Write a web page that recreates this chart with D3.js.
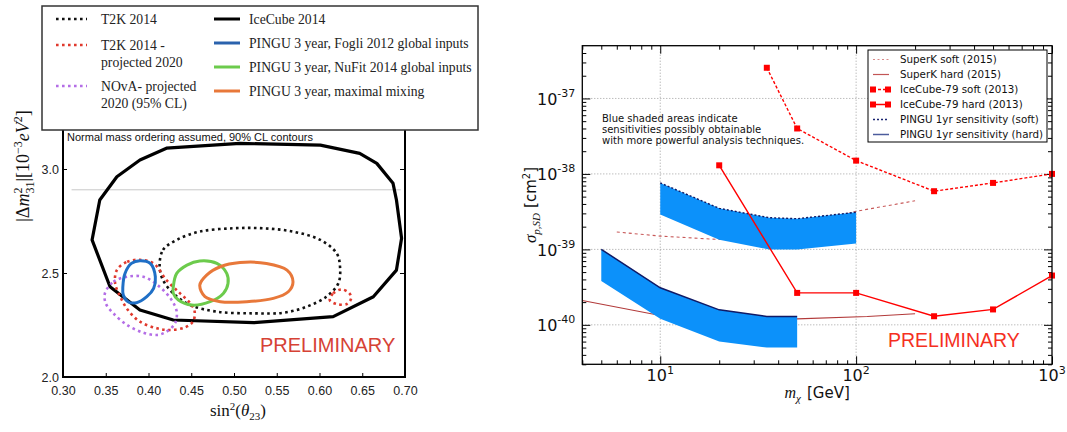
<!DOCTYPE html>
<html>
<head>
<meta charset="utf-8">
<script src="https://cdn.jsdelivr.net/npm/d3@7"></script>
<style>
  body { margin: 0; background: #fff; }
  svg { display: block; }
</style>
</head>
<body>
<div id="chart"></div>
<script>
// ---------- left panel: oscillation contours ----------
var oscXTicks = [0.30, 0.35, 0.40, 0.45, 0.50, 0.55, 0.60, 0.65, 0.70];
var oscYTicks = [2.0, 2.5, 3.0, 3.5];

// [sin^2(theta23), |dm^2_31| in 1e-3 eV^2]
var icecube2014 = [[0.334,2.659],[0.355,2.434],[0.390,2.322],[0.429,2.274],[0.523,2.261],[0.616,2.29],
  [0.663,2.386],[0.690,2.514],[0.696,2.667],[0.690,2.851],[0.686,2.931],[0.667,3.027],[0.647,3.075],
  [0.601,3.115],[0.507,3.123],[0.421,3.10],[0.390,3.043],[0.363,2.963],[0.343,2.851]];
var t2k2014 = [[0.413,2.530],[0.417,2.611],[0.433,2.659],[0.460,2.699],[0.499,2.715],[0.534,2.715],
  [0.569,2.699],[0.601,2.659],[0.620,2.595],[0.624,2.530],[0.622,2.450],[0.608,2.386],[0.585,2.338],
  [0.558,2.309],[0.523,2.306],[0.480,2.314],[0.449,2.346],[0.429,2.402],[0.417,2.466]];
var t2kProjected = [[0.363,2.514],[0.375,2.554],[0.390,2.563],[0.406,2.546],[0.421,2.466],[0.437,2.402],
  [0.449,2.354],[0.454,2.314],[0.452,2.266],[0.443,2.239],[0.425,2.226],[0.410,2.234],[0.390,2.266],
  [0.376,2.322],[0.367,2.386],[0.361,2.450]];
var t2kProjectedIsland = [[0.612,2.370],[0.616,2.402],[0.626,2.421],[0.635,2.402],[0.637,2.378],
  [0.632,2.351],[0.620,2.351]];
var novaProjected = [[0.349,2.402],[0.359,2.458],[0.375,2.482],[0.394,2.482],[0.413,2.434],[0.427,2.370],
  [0.433,2.314],[0.431,2.258],[0.421,2.218],[0.410,2.202],[0.394,2.213],[0.375,2.25],[0.359,2.306],
  [0.350,2.354]];
var pinguFogli = [[0.370,2.434],[0.3725,2.498],[0.380,2.546],[0.390,2.559],[0.402,2.546],[0.408,2.482],
  [0.406,2.426],[0.398,2.386],[0.386,2.357],[0.376,2.362],[0.3705,2.394]];
var pinguNuFit = [[0.429,2.434],[0.433,2.498],[0.445,2.538],[0.460,2.558],[0.480,2.546],[0.4915,2.498],
  [0.493,2.450],[0.4875,2.402],[0.472,2.362],[0.4505,2.346],[0.435,2.370],[0.429,2.402]];
var pinguMaximal = [[0.460,2.442],[0.468,2.490],[0.484,2.530],[0.507,2.550],[0.538,2.546],[0.562,2.514],
  [0.569,2.458],[0.5635,2.410],[0.546,2.378],[0.515,2.362],[0.484,2.362],[0.466,2.386]];

var oscLegendLeft = [
  { lines: ['T2K 2014'], color: '#111', dotted: true },
  { lines: ['T2K 2014 -', 'projected 2020'], color: '#e0392d', dotted: true },
  { lines: ['NOvA- projected', '2020 (95% CL)'], color: '#b46ee6', dotted: true }
];
var oscLegendRight = [
  { label: 'IceCube 2014', color: '#000' },
  { label: 'PINGU 3 year, Fogli 2012 global inputs', color: '#2a62ad' },
  { label: 'PINGU 3 year, NuFit 2014 global inputs', color: '#6ccb4c' },
  { label: 'PINGU 3 year, maximal mixing', color: '#e8783a' }
];

// ---------- right panel: spin-dependent cross section ----------
var massTicks = [10, 100, 1000];
var sigmaTicks = [1e-40, 1e-39, 1e-38, 1e-37];

var superKSoftMass = [6, 10, 20, 50, 100, 200];
var superKSoft = [1.7e-39, 1.5e-39, 1.35e-39, 1.9e-39, 3.2e-39, 4.4e-39];
var superKHardMass = [4, 10, 50, 114, 200];
var superKHard = [2.1e-40, 1.33e-40, 1.2e-40, 1.29e-40, 1.4e-40];

var icSoftMass = [35, 50, 100, 250, 500, 1000];
var icSoft = [2.55e-37, 4.0e-38, 1.5e-38, 5.9e-39, 7.6e-39, 1.0e-38];
var icHardMass = [20, 50, 100, 250, 500, 1000];
var icHard = [1.3e-38, 2.65e-40, 2.65e-40, 1.3e-40, 1.6e-40, 4.5e-40];

var pinguSoftMass = [10, 20, 36, 50, 100];
var pinguSoftTop = [7.6e-39, 3.5e-39, 2.63e-39, 2.55e-39, 3.1e-39];
var pinguSoftLow = [2.9e-39, 1.34e-39, 1.0e-39, 1.0e-39, 1.2e-39];
var pinguHardMass = [5, 10, 20, 35, 50];
var pinguHardTop = [1.0e-39, 3.1e-40, 1.58e-40, 1.29e-40, 1.29e-40];
var pinguHardLow = [3.8e-40, 1.2e-40, 6.0e-41, 5.0e-41, 5.0e-41];

var sdLegend = [
  { label: 'SuperK soft (2015)', color: '#d88a8a', dash: '2,2.5', width: 1, marker: false },
  { label: 'SuperK hard (2015)', color: '#c25555', dash: null, width: 1.2, marker: false },
  { label: 'IceCube-79 soft (2013)', color: '#ff0000', dash: '3,2', width: 1.5, marker: true },
  { label: 'IceCube-79 hard (2013)', color: '#ff0000', dash: null, width: 1.5, marker: true },
  { label: 'PINGU 1yr sensitivity (soft)', color: '#1a2472', dash: '2,2', width: 1.3, marker: false },
  { label: 'PINGU 1yr sensitivity (hard)', color: '#4c5c9c', dash: null, width: 1.5, marker: false }
];

var svg = d3.select('#chart').append('svg')
    .attr('width', 1067)
    .attr('height', 432);

var serif = '"Liberation Serif", "Times New Roman", serif';
var sans = '"Liberation Sans", Arial, sans-serif';
var djv = '"DejaVu Sans", sans-serif';

// ======================= LEFT PANEL =======================
var xL = d3.scaleLinear().domain([0.30, 0.70]).range([63, 405]);
var yL = d3.scaleLinear().domain([2.0, 3.6]).range([377, 44.2]);

var left = svg.append('g');

// thin grey reference line
left.append('line')
    .attr('x1', xL(0.31)).attr('x2', xL(0.695))
    .attr('y1', yL(2.9)).attr('y2', yL(2.9))
    .attr('stroke', '#c8c8c8').attr('stroke-width', 1);

left.append('g')
    .attr('transform', 'translate(0,' + yL(2.0) + ')')
    .call(d3.axisBottom(xL).tickValues(oscXTicks).tickFormat(d3.format('.2f')).tickSize(-4).tickPadding(9))
    .call(g => g.select('.domain').remove())
    .call(g => g.selectAll('text').attr('font-family', sans).attr('font-size', 12.5).attr('fill', '#222'));

left.append('g')
    .attr('transform', 'translate(' + xL(0.30) + ',0)')
    .call(d3.axisLeft(yL).tickValues(oscYTicks).tickFormat(d3.format('.1f')).tickSize(-4).tickPadding(4))
    .call(g => g.select('.domain').remove())
    .call(g => g.selectAll('text').attr('font-family', sans).attr('font-size', 12.5).attr('fill', '#222'));

left.append('g')
    .attr('transform', 'translate(' + xL(0.70) + ',0)')
    .call(d3.axisRight(yL).tickValues(oscYTicks).tickFormat('').tickSize(-5))
    .call(g => g.select('.domain').remove());

left.append('rect')
    .attr('x', xL(0.30)).attr('y', yL(3.6))
    .attr('width', xL(0.70) - xL(0.30)).attr('height', yL(2.0) - yL(3.6))
    .attr('fill', 'none').attr('stroke', '#000').attr('stroke-width', 2);

var closedPoly = d3.line().x(d => xL(d[0])).y(d => yL(d[1])).curve(d3.curveLinearClosed);
var closedSmooth = d3.line().x(d => xL(d[0])).y(d => yL(d[1])).curve(d3.curveCatmullRomClosed.alpha(0.5));

function contour(data, gen, color, width, dash) {
  left.append('path')
      .attr('d', gen(data))
      .attr('fill', 'none')
      .attr('stroke', color)
      .attr('stroke-width', width)
      .attr('stroke-dasharray', dash)
      .attr('stroke-linejoin', 'round');
}

contour(icecube2014, closedPoly, '#000', 3.2, null);
contour(t2k2014, closedSmooth, '#111', 2.6, '2.6,3.4');
contour(t2kProjected, closedSmooth, '#e0392d', 2.6, '2.6,3.4');
contour(t2kProjectedIsland, closedSmooth, '#e0392d', 2.6, '2.6,3.4');
contour(novaProjected, closedSmooth, '#b46ee6', 2.6, '2.6,3.4');
contour(pinguFogli, closedSmooth, '#1f6fc6', 3, null);
contour(pinguNuFit, closedSmooth, '#6ccb4c', 3, null);
contour(pinguMaximal, closedSmooth, '#e8783a', 3, null);

left.append('text')
    .attr('x', 67).attr('y', 141)
    .attr('font-family', sans).attr('font-size', 11)
    .attr('fill', '#111')
    .text('Normal mass ordering assumed, 90% CL contours');

left.append('text')
    .attr('x', 260).attr('y', 352)
    .attr('font-family', sans).attr('font-size', 20)
    .attr('fill', '#d64235')
    .text('PRELIMINARY');

// x label: sin^2(theta_23)
var xLab = left.append('text')
    .attr('x', 238).attr('y', 416)
    .attr('text-anchor', 'middle')
    .attr('font-family', serif).attr('font-size', 17).attr('fill', '#111');
xLab.append('tspan').text('sin');
xLab.append('tspan').attr('dy', -6).attr('font-size', 11).text('2');
xLab.append('tspan').attr('dy', 6).text('(');
xLab.append('tspan').attr('font-style', 'italic').text('θ');
xLab.append('tspan').attr('dy', 4).attr('font-size', 11).text('23');
xLab.append('tspan').attr('dy', -4).text(')');

// y label: |dm^2_31| [1e-3 eV^2]
var yLab = left.append('text')
    .attr('transform', 'translate(29,166) rotate(-90)')
    .attr('text-anchor', 'middle')
    .attr('font-family', serif).attr('font-size', 18).attr('fill', '#111');
yLab.append('tspan').text('|Δ');
yLab.append('tspan').attr('font-style', 'italic').text('m');
yLab.append('tspan').attr('dy', -7).attr('font-size', 12).text('2');
yLab.append('tspan').attr('dy', 12).attr('dx', -6).attr('font-size', 12).text('31');
yLab.append('tspan').attr('dy', -5).text('|[10');
yLab.append('tspan').attr('dy', -7).attr('font-size', 12).text('−3');
yLab.append('tspan').attr('dy', 7).attr('font-style', 'italic').text('eV');
yLab.append('tspan').attr('dy', -7).attr('font-size', 12).text('2');
yLab.append('tspan').attr('dy', 7).text(']');

// legend (drawn over the top of the plot)
var legL = svg.append('g');
legL.append('rect')
    .attr('x', 42).attr('y', 6).attr('width', 436).attr('height', 124)
    .attr('fill', '#fff').attr('stroke', '#333').attr('stroke-width', 1.5);

var leftRowY = [19, 45, 86];
oscLegendLeft.forEach(function(d, i) {
  var y = leftRowY[i];
  legL.append('line')
      .attr('x1', 56).attr('x2', 87).attr('y1', y).attr('y2', y)
      .attr('stroke', d.color).attr('stroke-width', 2.6).attr('stroke-dasharray', '2.6,3.4');
  d.lines.forEach(function(t, j) {
    legL.append('text')
        .attr('x', 101).attr('y', y + 5 + j * 16.5)
        .attr('font-family', serif).attr('font-size', 13.7).attr('fill', '#222')
        .text(t);
  });
});

var rightRowY = [19, 43, 67, 91];
oscLegendRight.forEach(function(d, i) {
  var y = rightRowY[i];
  legL.append('line')
      .attr('x1', 214).attr('x2', 240).attr('y1', y).attr('y2', y)
      .attr('stroke', d.color).attr('stroke-width', 3);
  legL.append('text')
      .attr('x', 249).attr('y', y + 5)
      .attr('font-family', serif).attr('font-size', 13.7).attr('fill', '#222')
      .text(d.label);
});

// ======================= RIGHT PANEL =======================
var xR = d3.scaleLog().domain([4, 1000]).range([582.3, 1052]);
var yR = d3.scaleLog().domain([3e-41, 5e-37]).range([364.3, 45.7]);

var right = svg.append('g');

var xMinor = [];
[1, 10, 100].forEach(function(dec) {
  for (var k = 2; k <= 9; k++) {
    var v = dec * k;
    if (v >= 4 && v <= 1000) xMinor.push(v);
  }
});
var yMinor = [];
[1e-41, 1e-40, 1e-39, 1e-38, 1e-37].forEach(function(dec) {
  for (var k = 2; k <= 9; k++) {
    var v = dec * k;
    if (v >= 3e-41 && v <= 5e-37) yMinor.push(v);
  }
});

// grid
right.append('g')
    .selectAll('line').data(massTicks.slice(0, 2)).enter().append('line')
    .attr('x1', d => xR(d)).attr('x2', d => xR(d))
    .attr('y1', yR.range()[1]).attr('y2', yR.range()[0])
    .attr('stroke', '#888').attr('stroke-width', 0.8).attr('stroke-dasharray', '1,2');
right.append('g')
    .selectAll('line').data(sigmaTicks).enter().append('line')
    .attr('x1', xR.range()[0]).attr('x2', xR.range()[1])
    .attr('y1', d => yR(d)).attr('y2', d => yR(d))
    .attr('stroke', '#888').attr('stroke-width', 0.8).attr('stroke-dasharray', '1,2');

// ticks on all four sides, pointing inwards
function tickAxis(axis, transform) {
  right.append('g')
      .attr('transform', transform)
      .call(axis)
      .call(g => g.select('.domain').remove())
      .call(g => g.selectAll('line').attr('stroke', '#000').attr('stroke-width', 1));
}
var x0 = xR.range()[0], x1 = xR.range()[1], yb = yR.range()[0], yt = yR.range()[1];
tickAxis(d3.axisBottom(xR).tickValues(massTicks).tickFormat('').tickSize(-8), 'translate(0,' + yb + ')');
tickAxis(d3.axisBottom(xR).tickValues(xMinor).tickFormat('').tickSize(-4), 'translate(0,' + yb + ')');
tickAxis(d3.axisTop(xR).tickValues(massTicks).tickFormat('').tickSize(-8), 'translate(0,' + yt + ')');
tickAxis(d3.axisTop(xR).tickValues(xMinor).tickFormat('').tickSize(-4), 'translate(0,' + yt + ')');
tickAxis(d3.axisLeft(yR).tickValues(sigmaTicks).tickFormat('').tickSize(-8), 'translate(' + x0 + ',0)');
tickAxis(d3.axisLeft(yR).tickValues(yMinor).tickFormat('').tickSize(-4), 'translate(' + x0 + ',0)');
tickAxis(d3.axisRight(yR).tickValues(sigmaTicks).tickFormat('').tickSize(-8), 'translate(' + x1 + ',0)');
tickAxis(d3.axisRight(yR).tickValues(yMinor).tickFormat('').tickSize(-4), 'translate(' + x1 + ',0)');

// tick labels
massTicks.forEach(function(m) {
  var t = right.append('text')
      .attr('x', xR(m)).attr('y', yb + 17)
      .attr('text-anchor', 'middle')
      .attr('font-family', djv).attr('font-size', 16).attr('fill', '#111');
  t.append('tspan').text('10');
  t.append('tspan').attr('dy', -7).attr('font-size', 11).text(Math.round(Math.log10(m)));
});
sigmaTicks.forEach(function(s) {
  var t = right.append('text')
      .attr('x', x0 - 7).attr('y', yR(s) + 6.4)
      .attr('text-anchor', 'end')
      .attr('font-family', djv).attr('font-size', 16).attr('fill', '#111');
  t.append('tspan').text('10');
  t.append('tspan').attr('dy', -8).attr('font-size', 11).text(Math.round(Math.log10(s)));
});

var lineR = d3.line().x(d => xR(d[0])).y(d => yR(d[1]));
function zip(a, b) { return a.map((v, i) => [v, b[i]]); }

// SuperK (under the bands)
right.append('path')
    .attr('d', lineR(zip(superKSoftMass, superKSoft)))
    .attr('fill', 'none').attr('stroke', '#c85a5a').attr('stroke-width', 1.1)
    .attr('stroke-dasharray', '3,3');
right.append('path')
    .attr('d', lineR(zip(superKHardMass, superKHard)))
    .attr('fill', 'none').attr('stroke', '#b23a3a').attr('stroke-width', 1.1);

// PINGU bands
var area = d3.area()
    .x(d => xR(d[0])).y0(d => yR(d[2])).y1(d => yR(d[1]));
var softBand = pinguSoftMass.map((m, i) => [m, pinguSoftTop[i], pinguSoftLow[i]]);
var hardBand = pinguHardMass.map((m, i) => [m, pinguHardTop[i], pinguHardLow[i]]);
right.append('path').attr('d', area(softBand)).attr('fill', '#0c91fa');
right.append('path').attr('d', area(hardBand)).attr('fill', '#0c91fa');
right.append('path')
    .attr('d', lineR(zip(pinguSoftMass, pinguSoftTop)))
    .attr('fill', 'none').attr('stroke', '#101a66').attr('stroke-width', 1.4)
    .attr('stroke-dasharray', '2,2');
right.append('path')
    .attr('d', lineR(zip(pinguHardMass, pinguHardTop)))
    .attr('fill', 'none').attr('stroke', '#101a66').attr('stroke-width', 1.5);

// IceCube-79
function icecube(mass, vals, dash) {
  var data = zip(mass, vals);
  right.append('path')
      .attr('d', lineR(data))
      .attr('fill', 'none').attr('stroke', '#ff0000').attr('stroke-width', 1.4)
      .attr('stroke-dasharray', dash);
  right.append('g').selectAll('rect').data(data).enter().append('rect')
      .attr('x', d => xR(d[0]) - 3).attr('y', d => yR(d[1]) - 3)
      .attr('width', 6).attr('height', 6)
      .attr('fill', '#ff0000');
}
icecube(icSoftMass, icSoft, '3,2');
icecube(icHardMass, icHard, null);

// frame
right.append('rect')
    .attr('x', x0).attr('y', yt).attr('width', x1 - x0).attr('height', yb - yt)
    .attr('fill', 'none').attr('stroke', '#000').attr('stroke-width', 1.3);

// annotation
['Blue shaded areas indicate', 'sensitivities possibly obtainable',
 'with more powerful analysis techniques.'].forEach(function(t, i) {
  right.append('text')
      .attr('x', 602).attr('y', 121.5 + i * 11.3)
      .attr('font-family', djv).attr('font-size', 10).attr('fill', '#111')
      .text(t);
});

right.append('text')
    .attr('x', 888).attr('y', 347)
    .attr('font-family', sans).attr('font-size', 19.5)
    .attr('fill', '#f5301f')
    .text('PRELIMINARY');

// axis labels
var mx = right.append('text')
    .attr('x', (x0 + x1) / 2).attr('y', 398)
    .attr('text-anchor', 'middle')
    .attr('font-family', djv).attr('font-size', 15).attr('fill', '#111');
mx.append('tspan').attr('font-family', serif).attr('font-style', 'italic').attr('font-size', 16).text('m');
mx.append('tspan').attr('dy', 4).attr('font-family', serif).attr('font-style', 'italic').attr('font-size', 11).text('χ');
mx.append('tspan').attr('dy', -4).attr('dx', 6).text('[GeV]');

var sy = right.append('text')
    .attr('transform', 'translate(536,' + ((yt + yb) / 2) + ') rotate(-90)')
    .attr('text-anchor', 'middle')
    .attr('font-family', djv).attr('font-size', 15).attr('fill', '#111');
sy.append('tspan').attr('font-family', serif).attr('font-style', 'italic').attr('font-size', 17).text('σ');
sy.append('tspan').attr('dy', 4).attr('font-family', serif).attr('font-style', 'italic').attr('font-size', 11).text('p,SD');
sy.append('tspan').attr('dy', -4).attr('dx', 5).text('[cm');
sy.append('tspan').attr('dy', -6).attr('font-size', 10).text('2');
sy.append('tspan').attr('dy', 6).text(']');

// legend
var legR = svg.append('g');
legR.append('rect')
    .attr('x', 868).attr('y', 50).attr('width', 179).attr('height', 92)
    .attr('fill', '#fff').attr('stroke', '#000').attr('stroke-width', 1);
sdLegend.forEach(function(d, i) {
  var y = 59.5 + i * 15;
  legR.append('line')
      .attr('x1', 873).attr('x2', 889).attr('y1', y).attr('y2', y)
      .attr('stroke', d.color).attr('stroke-width', d.width)
      .attr('stroke-dasharray', d.dash);
  if (d.marker) {
    legR.append('g').selectAll('rect').data([873, 888]).enter().append('rect')
        .attr('x', v => v - 3).attr('y', y - 3).attr('width', 6).attr('height', 6)
        .attr('fill', d.color);
  }
  legR.append('text')
      .attr('x', 900).attr('y', y + 3.8)
      .attr('font-family', djv).attr('font-size', 10.3).attr('fill', '#111')
      .text(d.label);
});
</script>
</body>
</html>
